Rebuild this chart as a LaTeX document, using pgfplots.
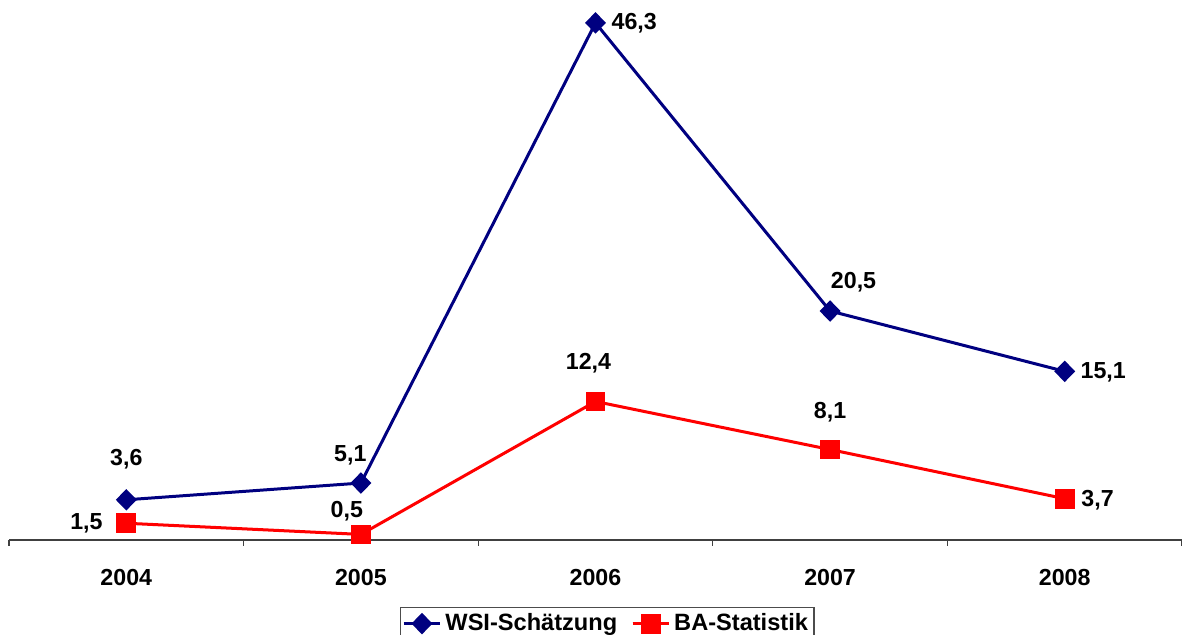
\documentclass[border=0pt]{standalone}
\usepackage{pgfplots}
\pgfplotsset{compat=1.18}
\usepackage{fontspec}
\setmainfont{Liberation Sans}
\definecolor{wsi}{RGB}{0,0,128}
\definecolor{ba}{RGB}{255,0,0}
\begin{document}
\begin{tikzpicture}
\begin{axis}[
  scale only axis,
  width=586.5pt, height=270pt,
  xmin=-0.5, xmax=4.5,
  ymin=0, ymax=48.35,
  axis x line*=bottom,
  axis y line=none,
  x axis line style={black!75, line width=0.6pt},
  xtick={0,1,2,3,4},
  xticklabels={2004,2005,2006,2007,2008},
  major x tick style={draw=none},
  minor xtick={-0.5,0.5,1.5,2.5,3.5,4.5},
  minor x tick style={black!75, line width=0.6pt},
  minor tick length=3pt,
  tick align=outside,
  xticklabel style={font=\fontsize{11.6}{13}\selectfont\bfseries, yshift=-7pt},
  clip=false,
  legend columns=2,
  legend style={at={(0.51,-0.124)}, anchor=north, draw=black!70, line width=0.6pt,
    font=\fontsize{11.8}{13}\selectfont\bfseries, inner sep=1pt,
    /tikz/every even column/.append style={column sep=5pt}},
  legend image code/.code={\draw[#1] (0pt,0pt) -- (18pt,0pt); \draw[#1, mark repeat=2, mark phase=2] plot coordinates {(0pt,0pt) (9pt,0pt) (18pt,0pt)};},
]
\addplot[color=wsi, line width=1.5pt, mark=diamond*, mark size=4.3pt, mark options={solid, xscale=1.3}]
  coordinates {(0,3.6) (1,5.1) (2,46.3) (3,20.5) (4,15.1)};
\addlegendentry{WSI-Schätzung}
\addplot[color=ba, line width=1.5pt, mark=square*, mark size=4.2pt, mark options={solid}]
  coordinates {(0,1.5) (1,0.5) (2,12.4) (3,8.1) (4,3.7)};
\addlegendentry{BA-Statistik}
\begin{scope}[every node/.style={font=\fontsize{11.6}{13}\selectfont\bfseries}]
\node at (axis cs:0,7.26) {3,6};
\node at (axis cs:-0.17,1.52) {1,5};
\node at (axis cs:0.955,7.62) {5,1};
\node at (axis cs:0.94,2.56) {0,5};
\node at (axis cs:2.165,46.25) {46,3};
\node at (axis cs:1.97,15.86) {12,4};
\node at (axis cs:3.10,23.1) {20,5};
\node at (axis cs:3.0,11.4) {8,1};
\node at (axis cs:4.164,14.97) {15,1};
\node at (axis cs:4.14,3.58) {3,7};
\end{scope}
\end{axis}
\pgfresetboundingbox
\path[use as bounding box] (-4.5pt,-47.5pt) rectangle (586.5pt,270pt);
\end{tikzpicture}
\end{document}
